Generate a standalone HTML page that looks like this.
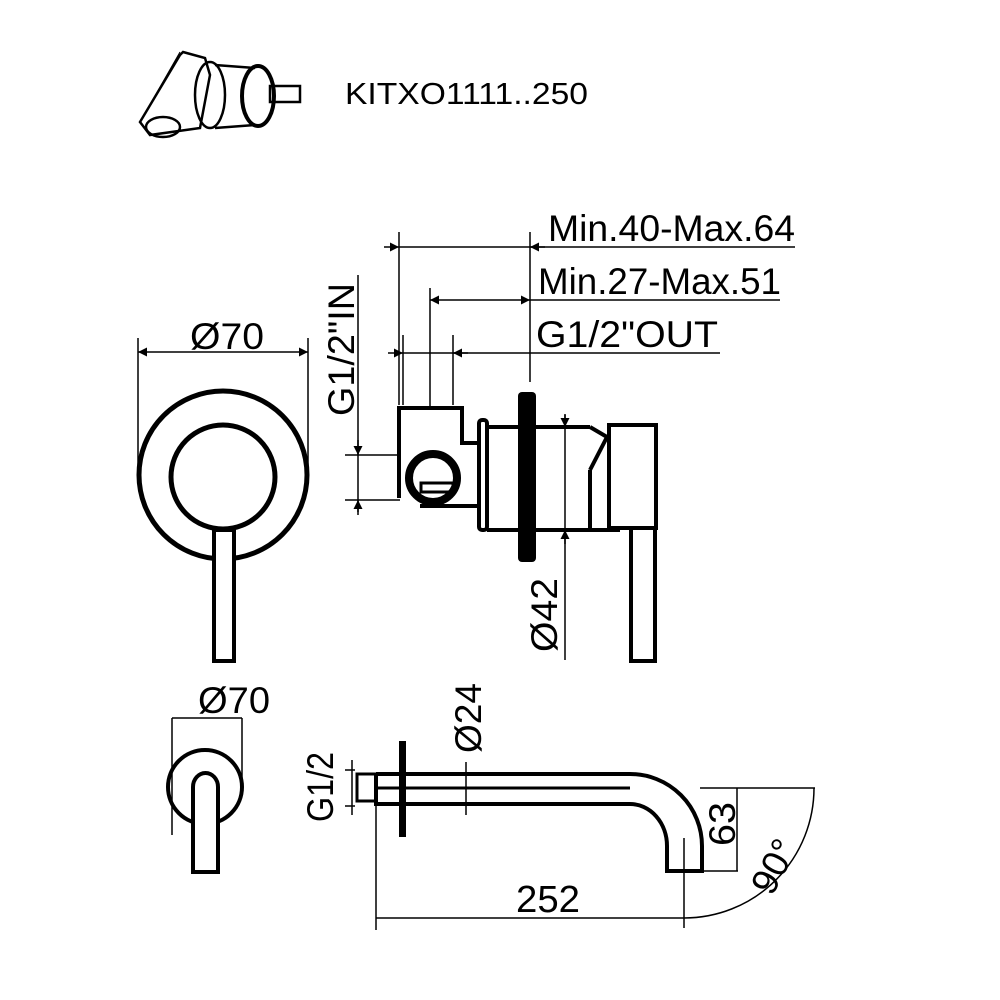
<!DOCTYPE html>
<html><head><style>html,body{margin:0;padding:0;background:#fff}svg{display:block}</style></head><body>
<svg width="1000" height="1000" viewBox="0 0 1000 1000" xmlns="http://www.w3.org/2000/svg" font-family="Liberation Sans, sans-serif">
<defs>
<marker id="a" viewBox="0 0 10 10" refX="10" refY="5" markerWidth="14" markerHeight="9" orient="auto-start-reverse" markerUnits="userSpaceOnUse"><path d="M0,0L10,5L0,10z" fill="#000"/></marker>
</defs>
<rect width="1000" height="1000" fill="#fff"/>
<!-- icon -->
<g stroke="#000" fill="none" stroke-width="2.5">
<path d="M183,52 L205,58 L210,75 L200,128 L150,135 L140,122 L180,55z"/>
<ellipse cx="163" cy="127" rx="17" ry="10"/>
<ellipse cx="210" cy="95" rx="15" ry="33"/>
<path d="M215,65 L255,68 M215,128 L255,125"/>
<ellipse cx="258" cy="96" rx="16" ry="30" stroke-width="4"/>
<rect x="270" y="86" width="30" height="16"/>
<line x1="140" y1="122" x2="180" y2="52" stroke-width="1"/>
</g>
<text x="345" y="104" font-size="31" textLength="243" lengthAdjust="spacingAndGlyphs">KITXO1111..250</text>
<!-- front view -->
<g stroke="#000" fill="none">
<circle cx="223" cy="475" r="84" stroke-width="5"/>
<circle cx="223" cy="477" r="52" stroke-width="5"/>
<rect x="214" y="530" width="20" height="131" stroke-width="4" fill="#fff"/>
<line x1="138" y1="338" x2="138" y2="470" stroke-width="1.5"/>
<line x1="308" y1="338" x2="308" y2="470" stroke-width="1.5"/>
<line x1="138" y1="352" x2="308" y2="352" stroke-width="1.5" marker-start="url(#a)" marker-end="url(#a)"/>
</g>
<text x="227" y="349" font-size="37" text-anchor="middle" textLength="74" lengthAdjust="spacingAndGlyphs">Ø70</text>
<!-- side view dims -->
<g stroke="#000" fill="none" stroke-width="1.5">
<line x1="399" y1="232" x2="399" y2="405"/>
<line x1="530" y1="232" x2="530" y2="382"/>
<line x1="384" y1="247" x2="399" y2="247" marker-end="url(#a)"/>
<line x1="399" y1="247" x2="795" y2="247"/>
<line x1="545" y1="247" x2="530" y2="247" marker-end="url(#a)"/>
<line x1="430" y1="288" x2="430" y2="408"/>
<line x1="430" y1="300" x2="530" y2="300" marker-start="url(#a)" marker-end="url(#a)"/>
<line x1="530" y1="300" x2="780" y2="300"/>
<line x1="403" y1="335" x2="403" y2="405"/>
<line x1="453" y1="335" x2="453" y2="405"/>
<line x1="388" y1="353" x2="403" y2="353" marker-end="url(#a)"/>
<line x1="403" y1="353" x2="453" y2="353"/>
<line x1="468" y1="353" x2="453" y2="353" marker-end="url(#a)"/>
<line x1="453" y1="353" x2="720" y2="353"/>
<line x1="358" y1="275" x2="358" y2="512"/>
<line x1="345" y1="455" x2="400" y2="455"/>
<line x1="345" y1="500" x2="400" y2="500"/>
<line x1="358" y1="440" x2="358" y2="455" marker-end="url(#a)"/>
<line x1="358" y1="515" x2="358" y2="500" marker-end="url(#a)"/>
<line x1="565" y1="415" x2="565" y2="660"/>
<line x1="565" y1="414" x2="565" y2="427" marker-end="url(#a)"/>
<line x1="565" y1="544" x2="565" y2="530" marker-end="url(#a)"/>
</g>
<text x="548" y="241" font-size="37" textLength="247" lengthAdjust="spacingAndGlyphs">Min.40-Max.64</text>
<text x="538" y="294" font-size="37" textLength="243" lengthAdjust="spacingAndGlyphs">Min.27-Max.51</text>
<text x="536" y="347" font-size="37" textLength="182" lengthAdjust="spacingAndGlyphs">G1/2"OUT</text>
<text transform="translate(354,416) rotate(-90)" font-size="37" textLength="133" lengthAdjust="spacingAndGlyphs">G1/2"IN</text>
<text transform="translate(557,652) rotate(-90)" font-size="37" textLength="74" lengthAdjust="spacingAndGlyphs">Ø42</text>
<!-- side view body -->
<g stroke="#000" fill="none" stroke-width="4">
<path d="M399,498 L399,408 L462,408 L462,443 L478,443"/>
<path d="M420,506 L478,506"/>
<circle cx="433" cy="478" r="24" stroke-width="8"/>
<rect x="421" y="483" width="32" height="9" stroke-width="3"/>
<rect x="479" y="420" width="8" height="110" rx="3"/>
<path d="M487,427 L590,427 M487,530 L620,530 M565,427 L590,427"/>
<rect x="518" y="392" width="18" height="170" rx="4" fill="#000" stroke="none"/>
<path d="M590,427 L607,437 L610,437 M607,437 L590,470 M590,470 L590,530"/>
<rect x="609" y="425" width="47" height="103"/>
<rect x="631" y="528" width="24" height="133"/>
</g>
<!-- bottom front -->
<g stroke="#000" fill="none">
<line x1="172" y1="718" x2="242" y2="718" stroke-width="1.5"/>
<line x1="172" y1="718" x2="172" y2="835" stroke-width="1.5"/>
<line x1="242" y1="718" x2="242" y2="790" stroke-width="1.5"/>
<circle cx="205" cy="787" r="37" stroke-width="4"/>
<path d="M193,872 L193,787 A12.5,14 0 0 1 218,787 L218,872 Z" fill="#fff" stroke-width="4"/>
</g>
<text x="234" y="713" font-size="37" text-anchor="middle" textLength="72" lengthAdjust="spacingAndGlyphs">Ø70</text>
<!-- spout -->
<g stroke="#000" fill="none">
<rect x="357" y="774" width="19" height="27" stroke-width="3"/>
<path d="M376,774 L630,774 A72,72 0 0 1 702,846 L702,871 L667,871 L667,846 A37,42 0 0 0 630,804 L376,804 L376,774" stroke-width="4"/>
<line x1="376" y1="788" x2="630" y2="788" stroke-width="3"/>
<rect x="399" y="741" width="7" height="96" fill="#000" stroke="none"/>
<line x1="466" y1="762" x2="466" y2="815" stroke-width="1.5"/>
<line x1="345" y1="770" x2="355" y2="770" stroke-width="1.5"/>
<line x1="345" y1="806" x2="355" y2="806" stroke-width="1.5"/>
<line x1="352" y1="760" x2="352" y2="815" stroke-width="1.5"/>
<line x1="700" y1="788" x2="815" y2="788" stroke-width="1.5"/>
<line x1="700" y1="871" x2="738" y2="871" stroke-width="1.5"/>
<line x1="737" y1="788" x2="737" y2="871" stroke-width="1.5"/>
<line x1="684" y1="838" x2="684" y2="928" stroke-width="1.5"/>
<line x1="376" y1="804" x2="376" y2="930" stroke-width="1.5"/>
<line x1="376" y1="918" x2="684" y2="918" stroke-width="1.5"/>
<path d="M684,918 A130,130 0 0 0 814,788" stroke-width="1.5"/>
</g>
<text transform="translate(481,753) rotate(-90)" font-size="37" textLength="70" lengthAdjust="spacingAndGlyphs">Ø24</text>
<text transform="translate(333,822) rotate(-90)" font-size="37" textLength="70" lengthAdjust="spacingAndGlyphs">G1/2</text>
<text transform="translate(735,846) rotate(-90)" font-size="37" textLength="44" lengthAdjust="spacingAndGlyphs">63</text>
<text transform="translate(772,897) rotate(-62)" font-size="37">90°</text>
<text x="548" y="912" font-size="38" text-anchor="middle" textLength="64" lengthAdjust="spacingAndGlyphs">252</text>
</svg>
</body></html>
